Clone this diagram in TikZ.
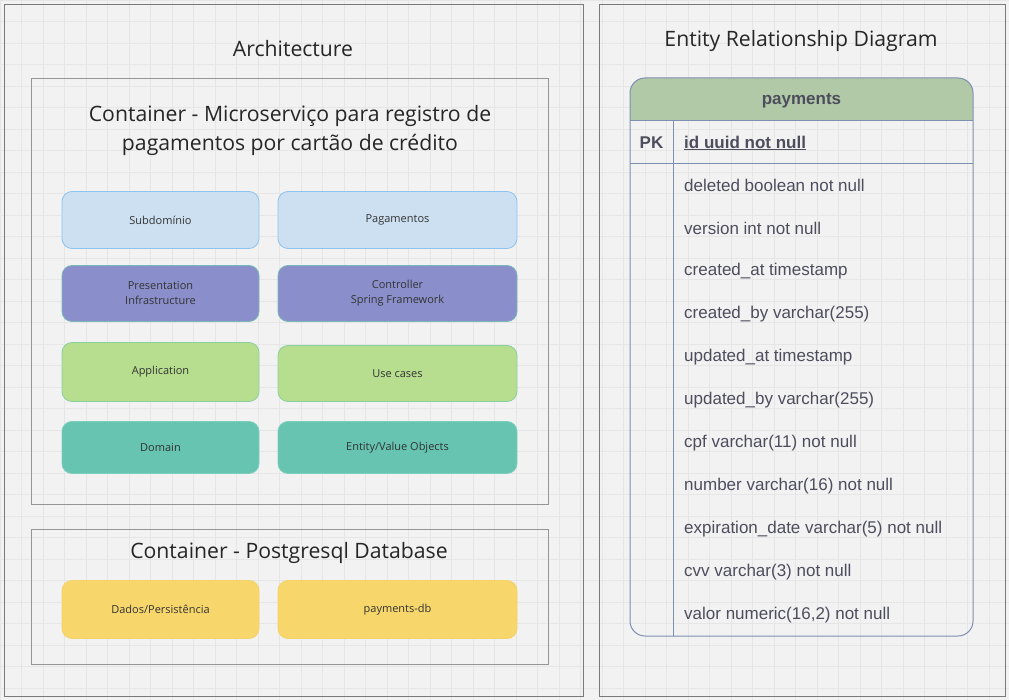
\documentclass[tikz,border=0pt]{standalone}
\usepackage{fontspec}
\setmainfont{Open Sans}
\newfontfamily\erdfont{Liberation Sans}
\usetikzlibrary{positioning}

\definecolor{bgcol}{HTML}{F2F2F2}
\definecolor{gridcol}{HTML}{E6E6E6}
\definecolor{panelcol}{HTML}{7A7A7A}
\definecolor{blueFill}{HTML}{CCE0F1}
\definecolor{blueLine}{HTML}{8CC4EF}
\definecolor{purpleFill}{HTML}{8A8FCB}
\definecolor{purpleLine}{HTML}{76B8B8}
\definecolor{greenFill}{HTML}{B7DD8F}
\definecolor{greenLine}{HTML}{8AD1A0}
\definecolor{tealFill}{HTML}{66C4B0}
\definecolor{tealLine}{HTML}{7CCFBD}
\definecolor{yellowFill}{HTML}{F7D76B}
\definecolor{yellowLine}{HTML}{F2D36A}
\definecolor{erdHead}{HTML}{B2C9A8}
\definecolor{erdLine}{HTML}{7D8FB2}
\definecolor{erdText}{HTML}{4D4D5E}

\begin{document}
\begin{tikzpicture}[x=1pt, y=-1pt,
  panel/.style={draw=panelcol, line width=0.9pt},
  container/.style={draw=panelcol!80, line width=0.8pt},
  title/.style={font=\fontsize{21.2}{29}\selectfont, text=black!85, align=center},
  layer/.style={rounded corners=10pt, line width=0.8pt, align=center, inner sep=0pt,
    font=\fontsize{11}{15}\selectfont, text=black!80},
  small/.style={layer, minimum width=197pt},
  wide/.style={layer, minimum width=239pt},
  field/.style={anchor=west, inner sep=0pt, font=\erdfont\fontsize{17}{20}\selectfont, text=erdText}]

  % background and grid
  \fill[bgcol] (0,0) rectangle (1009,700);
  \useasboundingbox (0,0) rectangle (1009,700);
  \draw[gridcol, line width=0.5pt, step=21.5pt] (0,0) grid (1009,700);

  % panels
  \draw[panel] (4,4) rectangle (583,696);
  \draw[panel] (599,4) rectangle (1005,696);
  \node[title] (arch) at (293,49) {Architecture};
  \node[title] (erd) at (801,41) {Entity Relationship Diagram};

  % microservice container
  \draw[container] (31,78) rectangle (548,504);
  \node[title] (ms) at (290,130) {Container - Microserviço para registro de\\pagamentos por cartão de crédito};

  \node[small, fill=blueFill, draw=blueLine, minimum height=57pt] (sub) at (160.5,220) {Subdomínio};
  \node[wide, fill=blueFill, draw=blueLine, minimum height=57pt] (pag) at (397.5,220) {Pagamentos};

  \node[small, fill=purpleFill, draw=purpleLine, minimum height=56pt] (pres) at (160.5,293.5) {Presentation\\Infrastructure};
  \node[wide, fill=purpleFill, draw=purpleLine, minimum height=56pt] (ctrl) at (397.5,293.5) {Controller\\Spring Framework};

  \node[small, fill=greenFill, draw=greenLine, minimum height=59pt] (app) at (160.5,372) {Application};
  \node[wide, fill=greenFill, draw=greenLine, minimum height=56pt] (use) at (397.5,373.5) {Use cases};

  \node[small, fill=tealFill, draw=tealLine, minimum height=52pt] (dom) at (160.5,447.5) {Domain};
  \node[wide, fill=tealFill, draw=tealLine, minimum height=52pt] (ent) at (397.5,447.5) {Entity/Value Objects};

  % database container
  \draw[container] (31,529) rectangle (548,664);
  \node[title] (db) at (289,553) {Container - Postgresql Database};

  \node[small, fill=yellowFill, draw=yellowLine, minimum height=58pt] (dados) at (160.5,609.5) {Dados/Persistência};
  \node[wide, fill=yellowFill, draw=yellowLine, minimum height=58pt] (pdb) at (397.5,609.5) {payments-db};

  % entity table
  \begin{scope}
    \clip (630,78) rectangle (973,121);
    \fill[erdHead, rounded corners=15pt] (630,78) rectangle (973,160);
  \end{scope}
  \draw[erdLine, line width=1pt, rounded corners=15pt] (630,78) rectangle (973,636);
  \draw[erdLine, line width=1pt] (630,121) -- (973,121);
  \draw[erdLine, line width=1pt] (630,164) -- (973,164);
  \draw[erdLine, line width=1pt] (673,121) -- (673,636);

  \node[font=\erdfont\bfseries\fontsize{17}{20}\selectfont, text=erdText] (tbl) at (801.5,101) {payments};
  \node[font=\erdfont\bfseries\fontsize{17}{20}\selectfont, text=erdText] (pk) at (651.5,143) {PK};
  \node[field, font=\erdfont\bfseries\fontsize{17}{20}\selectfont] (id) at (684,143) {\underline{id uuid not null}};

  \foreach \txt [count=\i] in {deleted boolean not null, version int not null,
      created\_at timestamp, created\_by varchar(255), updated\_at timestamp,
      updated\_by varchar(255), cpf varchar(11) not null, number varchar(16) not null,
      expiration\_date varchar(5) not null, cvv varchar(3) not null,
      {valor numeric(16,2) not null}}
    \node[field] (f\i) at (684,{142.5+43*\i}) {\txt};
\end{tikzpicture}
\end{document}
